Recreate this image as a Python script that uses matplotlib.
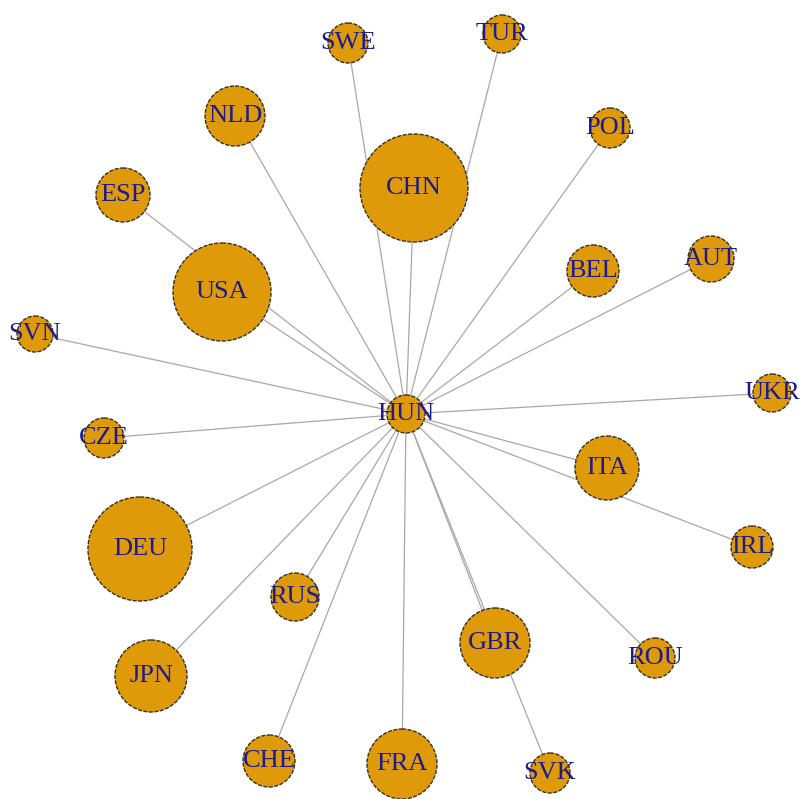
"""Star network of HUN trade partners, node size ~ trade volume."""

import matplotlib

matplotlib.use("Agg")
import matplotlib.pyplot as plt
from matplotlib.patches import Circle

# Nodes: name, layout coordinates, vertex size (radius in layout units)
NAMES = ["HUN", "CHN", "USA", "DEU", "SWE", "TUR", "NLD", "POL", "ESP", "BEL",
         "AUT", "SVN", "UKR", "CZE", "ITA", "IRL", "RUS", "GBR", "ROU", "JPN",
         "CHE", "FRA", "SVK"]
LAYOUT_X = [406, 414, 222, 140, 348, 502, 235, 610, 123, 593,
            711, 35, 772, 104, 607, 752, 295, 495, 655, 151,
            269, 402, 550]
LAYOUT_Y = [414, 188, 292, 549, 43, 34, 116, 128, 195, 271,
            259, 334, 393, 438, 468, 547, 597, 643, 658, 676,
            761, 764, 773]
SIZES = [19, 54, 49, 52, 20, 19, 30, 20, 27, 26,
         23, 18, 19, 20, 32, 21, 24, 35, 20, 36,
         26, 35, 20]
CENTER = "HUN"

FILL = "#DF9A0A"
BORDER = "#3b2f1a"
EDGE = "#a8a8a8"
LABEL = "#1c1c8c"

fig = plt.figure(figsize=(8.01, 7.99), dpi=100)
ax = fig.add_axes([0, 0, 1, 1])
ax.set_xlim(0, 801)
ax.set_ylim(799, 0)
ax.axis("off")

hub = NAMES.index(CENTER)
hx, hy = LAYOUT_X[hub], LAYOUT_Y[hub]

# edges first so the vertices cover them
for i, name in enumerate(NAMES):
    if i == hub:
        continue
    ax.plot([hx, LAYOUT_X[i]], [hy, LAYOUT_Y[i]], color=EDGE, lw=0.9, zorder=1)

for name, x, y, s in zip(NAMES, LAYOUT_X, LAYOUT_Y, SIZES):
    ax.add_patch(Circle((x, y), s, facecolor=FILL, edgecolor=BORDER,
                        lw=1.0, ls=(0, (3, 1)), zorder=2))
    ax.text(x, y, name, ha="center", va="center", color=LABEL,
            fontsize=19, family="Liberation Serif", zorder=3)

fig.savefig("out.png", dpi=100)
